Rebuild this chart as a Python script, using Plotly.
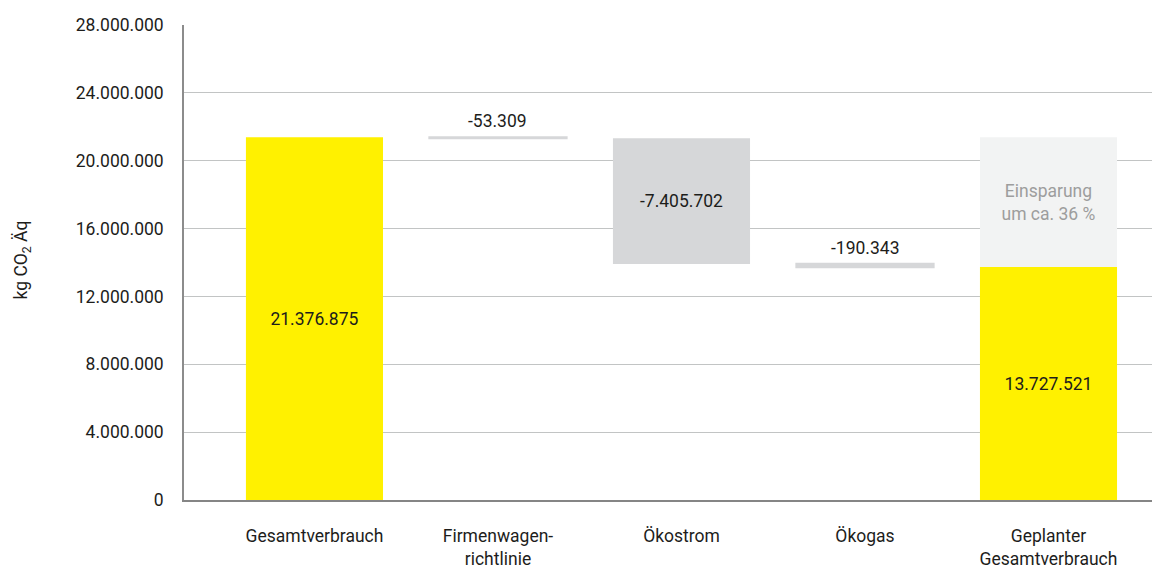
import plotly.graph_objects as go

# Bridge from current to planned CO2 footprint
categories = ["Gesamtverbrauch", "Firmenwagen-<br>richtlinie", "Ökostrom", "Ökogas",
              "Geplanter<br>Gesamtverbrauch"]
start_total = 21376875
reductions = [-53309, -7405702, -190343]
savings_note = "Einsparung<br>um ca. 36 %"
y_ticks = [0, 4000000, 8000000, 12000000, 16000000, 20000000, 24000000, 28000000]

YELLOW = "#FFF100"
STEP_GREY = "#D6D7D9"
GHOST = "#F2F3F3"
TEXT = "#1D1D1B"
FONT = "Roboto, 'Liberation Sans', sans-serif"
SIZE = 17.5


def de_fmt(v):
    return f"{v:,}".replace(",", ".")


# running totals for the floating steps
bases = []
running = start_total
for r in reductions:
    bases.append(running)
    running += r
final_total = running

xs = list(range(len(categories)))

fig = go.Figure()

# start and end totals
fig.add_trace(go.Bar(
    x=[xs[0], xs[-1]], y=[start_total, final_total],
    marker=dict(color=YELLOW, line=dict(width=0)),
    text=[de_fmt(start_total), de_fmt(final_total)],
    textposition="inside", insidetextanchor="middle",
    textfont=dict(color=TEXT, size=SIZE, family=FONT),
    width=0.747, hoverinfo="skip",
))

# saved amount shown as a pale block above the planned total
fig.add_trace(go.Bar(
    x=[xs[-1]], y=[start_total - final_total], base=[final_total],
    marker=dict(color=GHOST, line=dict(width=0)),
    text=[savings_note], textposition="inside", insidetextanchor="middle",
    textfont=dict(color="#9D9D9D", size=SIZE, family=FONT),
    width=0.747, hoverinfo="skip",
))

# reduction steps
step_x = xs[1:4]
big = [abs(r) > 1000000 for r in reductions]
fig.add_trace(go.Bar(
    x=step_x, y=reductions, base=bases,
    marker=dict(color=STEP_GREY, line=dict(color=STEP_GREY, width=[0 if b else 2.2 for b in big])),
    width=0.747, hoverinfo="skip",
))

# step labels: inside the large step, above the thin ones
for xv, r, b in zip(step_x, reductions, bases):
    if abs(r) > 1000000:
        fig.add_annotation(x=xv, y=b + r / 2, text=de_fmt(r), showarrow=False,
                           font=dict(color=TEXT, size=SIZE, family=FONT))
    else:
        fig.add_annotation(x=xv, y=b, text=de_fmt(r), showarrow=False, yanchor="bottom",
                           yshift=4, font=dict(color=TEXT, size=SIZE, family=FONT))

# axis title
fig.add_annotation(xref="paper", yref="paper", x=-0.167, y=0.505, xanchor="center",
                   yanchor="middle", text="kg CO<sub>2</sub> Äq", textangle=-90,
                   showarrow=False, font=dict(color=TEXT, size=SIZE, family=FONT))

fig.update_layout(
    width=1152, height=569,
    margin=dict(l=184, r=0, t=25, b=67),
    paper_bgcolor="white", plot_bgcolor="white",
    separators=",.",
    showlegend=False,
    barmode="overlay",
    font=dict(family=FONT, color=TEXT, size=SIZE),
    uniformtext=dict(mode=False),
)
fig.update_xaxes(
    range=[-0.711, 4.564], tickvals=xs, ticktext=categories,
    showline=True, linecolor="#858585", linewidth=1.6,
    ticks="outside", ticklen=19, tickcolor="rgba(0,0,0,0)",
    showgrid=False, zeroline=False,
    tickfont=dict(size=SIZE, color=TEXT, family=FONT),
)
fig.update_yaxes(
    range=[0, 28000000], tickvals=y_ticks, ticktext=[de_fmt(v) for v in y_ticks],
    showline=True, linecolor="#8C8C8C", linewidth=1.6,
    showgrid=True, gridcolor="#C2C4C4", gridwidth=1,
    ticks="outside", ticklen=15, tickcolor="rgba(0,0,0,0)",
    zeroline=False,
    tickfont=dict(size=SIZE, color=TEXT, family=FONT),
)

fig.write_html("out.html")
